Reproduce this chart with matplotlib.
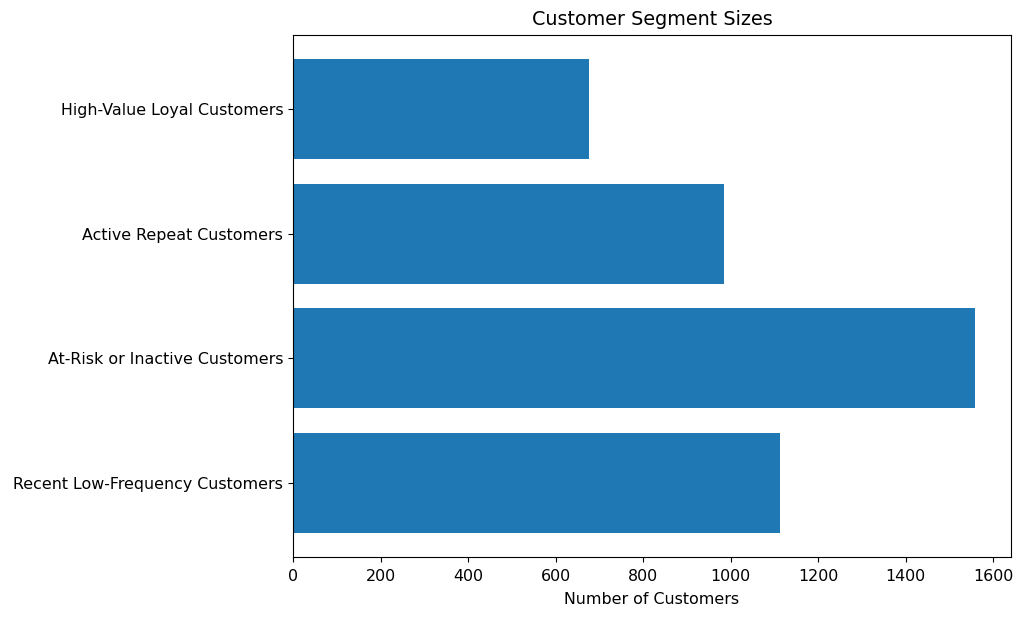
import matplotlib
matplotlib.use("Agg")
import matplotlib.pyplot as plt

segments = [
    "Recent Low-Frequency Customers",
    "At-Risk or Inactive Customers",
    "Active Repeat Customers",
    "High-Value Loyal Customers",
]
counts = [1112, 1559, 985, 676]

fig = plt.figure(figsize=(10.24, 6.18), dpi=100)
ax = fig.add_axes([293 / 1024, 1 - 557 / 618, (1011 - 293) / 1024, (557 - 35) / 618])
ax.barh(segments, counts, color="#1f77b4")
ax.set_xlim(0, 1641)
ax.set_xlabel("Number of Customers", fontsize=11.4, labelpad=6)
ax.set_title("Customer Segment Sizes", fontsize=13.8, pad=7)
ax.tick_params(labelsize=11.4)
ax.tick_params(axis="x", pad=5)
fig.savefig("out.png", dpi=100)
